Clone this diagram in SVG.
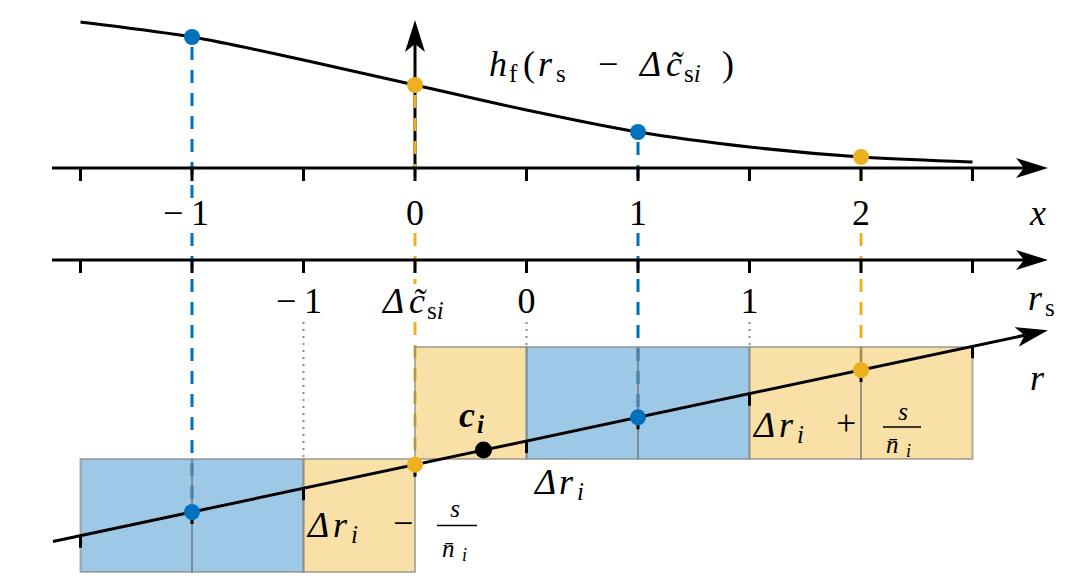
<svg xmlns="http://www.w3.org/2000/svg" width="1080" height="585" viewBox="0 0 1080 585">
<defs>
<marker id="arr" viewBox="-34 -12 36 24" refX="-24" refY="0" markerWidth="36" markerHeight="24" markerUnits="userSpaceOnUse" orient="auto">
<path d="M0,0 L-32,-10 L-24,0 L-32,10 Z" fill="#000"/>
</marker>
</defs>
<rect width="1080" height="585" fill="#fff"/>

<g id="y-axis" stroke="#000" stroke-width="3" fill="none">
<line x1="415" y1="168" x2="415" y2="44" marker-end="url(#arr)"/>
</g>

<g id="connectors" stroke-width="3" fill="none">
<path stroke="#0072BD" stroke-dasharray="13 10" d="M192,47 V198 M192,233 V512"/>
<path stroke="#EDB120" stroke-dasharray="13 10" d="M415,95 V182 M415,233 V284 M415,322 V465"/>
<path stroke="#0072BD" stroke-dasharray="13 10" d="M638,142 V182 M638,233 V417"/>
<path stroke="#EDB120" stroke-dasharray="13 10" d="M861,167 V182 M861,233 V370"/>
<path stroke="#888" stroke-width="2" stroke-dasharray="2 5" d="M303.5,322 V459 M526.5,322 V347 M749.5,322 V347"/>
</g>

<g id="cells" stroke="#808080" stroke-opacity="0.6" stroke-width="2">
<rect fill="#0072BD" fill-opacity="0.38" x="80.5" y="459" width="111.5" height="113"/>
<rect fill="#0072BD" fill-opacity="0.38" x="192" y="459" width="111.5" height="113"/>
<rect fill="#EDB120" fill-opacity="0.4" x="303.5" y="459" width="111.5" height="113"/>
<rect fill="#EDB120" fill-opacity="0.4" x="415" y="347" width="111.5" height="112"/>
<rect fill="#0072BD" fill-opacity="0.38" x="526.5" y="347" width="111.5" height="112"/>
<rect fill="#0072BD" fill-opacity="0.38" x="638" y="347" width="111.5" height="112"/>
<rect fill="#EDB120" fill-opacity="0.4" x="749.5" y="347" width="111.5" height="112"/>
<rect fill="#EDB120" fill-opacity="0.4" x="861" y="347" width="111.5" height="112"/>
</g>

<g id="x-axis" stroke="#000" stroke-width="3" fill="none">
<line x1="52" y1="168" x2="1024" y2="168" marker-end="url(#arr)"/>
<path d="M80.5,168v13 M192,168v13 M303.5,168v13 M415,168v13 M526.5,168v13 M638,168v13 M749.5,168v13 M861,168v13 M972.5,168v13"/>
</g>

<g id="rs-axis" stroke="#000" stroke-width="3" fill="none">
<line x1="52" y1="260" x2="1024" y2="260" marker-end="url(#arr)"/>
<path d="M80.5,260v13 M192,260v13 M303.5,260v13 M415,260v13 M526.5,260v13 M638,260v13 M749.5,260v13 M861,260v13 M972.5,260v13"/>
</g>

<g id="r-axis" stroke="#000" stroke-width="3" fill="none">
<line x1="53" y1="541.5" x2="1024.5" y2="335.3" marker-end="url(#arr)"/>
<path d="M80.5,535.7v12 M192,512v12 M303.5,488.3v12 M415,464.7v12 M526.5,441v12 M638,417.3v12 M749.5,393.7v12 M861,370v12 M972.5,346.3v12"/>
</g>

<g id="curve" stroke="#000" stroke-width="3" fill="none">
<path d="M80.5,22 C99,24.5 155,30.7 192,37 C229,43.3 266.3,52 303.5,60 C340.7,68 377.8,76.7 415,85 C452.2,93.3 489.3,102.2 526.5,110 C563.7,117.8 600.8,125.8 638,132 C675.2,138.2 712.3,142.8 749.5,147 C786.7,151.2 823.8,154.5 861,157 C898.2,159.5 953.9,161.2 972.5,162"/>
</g>

<g id="points">
<circle fill="#0072BD" cx="192" cy="37" r="8"/>
<circle fill="#EDB120" cx="415" cy="85" r="8"/>
<circle fill="#0072BD" cx="638" cy="132" r="8"/>
<circle fill="#EDB120" cx="861" cy="157" r="8"/>
<circle fill="#0072BD" cx="192" cy="512" r="8"/>
<circle fill="#EDB120" cx="415" cy="464.7" r="8"/>
<circle fill="#0072BD" cx="638" cy="417.3" r="8"/>
<circle fill="#EDB120" cx="861" cy="370" r="8"/>
<circle cx="483.5" cy="450" r="8.5" fill="#000"/>
</g>

<g id="label-hf">
<text font-family="Liberation Serif" font-size="36" y="76"><tspan x="489" font-style="italic">h</tspan><tspan x="509" y="82" font-size="25">f</tspan><tspan x="523" y="76">(</tspan><tspan x="538" font-style="italic">r</tspan><tspan x="556" y="82" font-size="25">s</tspan><tspan x="598" y="76">−</tspan><tspan x="640" font-style="italic">Δ</tspan><tspan x="666" font-style="italic">c̃</tspan><tspan x="684" y="82" font-size="25">s</tspan><tspan font-size="25" font-style="italic">i</tspan><tspan x="722" y="76">)</tspan></text>
</g>

<g id="x-labels">
<text font-family="Liberation Serif" font-size="36" y="225"><tspan x="163">−</tspan><tspan x="191">1</tspan></text>
<text font-family="Liberation Serif" font-size="36" text-anchor="middle" x="415" y="225">0</text>
<text font-family="Liberation Serif" font-size="36" text-anchor="middle" x="638" y="225">1</text>
<text font-family="Liberation Serif" font-size="36" text-anchor="middle" x="861" y="225">2</text>
<text font-family="Liberation Serif" font-size="36" text-anchor="middle" font-style="italic" x="1038" y="225">x</text>
</g>

<g id="rs-labels">
<text font-family="Liberation Serif" font-size="36" y="313"><tspan x="276">−</tspan><tspan x="304">1</tspan></text>
<text font-family="Liberation Serif" font-size="36" y="313"><tspan x="383" font-style="italic">Δ</tspan><tspan x="409" font-style="italic">c̃</tspan><tspan x="427" y="319" font-size="25">s</tspan><tspan font-size="25" font-style="italic">i</tspan></text>
<text font-family="Liberation Serif" font-size="36" text-anchor="middle" x="526.5" y="313">0</text>
<text font-family="Liberation Serif" font-size="36" text-anchor="middle" x="749.5" y="313">1</text>
<text font-family="Liberation Serif" font-size="36" y="310"><tspan x="1028" font-style="italic">r</tspan><tspan x="1045" y="316" font-size="25">s</tspan></text>
</g>

<g id="r-label">
<text font-family="Liberation Serif" font-size="36" font-style="italic" x="1030" y="390">r</text>
</g>

<g id="ci-label">
<text font-family="Liberation Serif" font-size="36" font-weight="bold" font-style="italic" y="427"><tspan x="459">c</tspan><tspan x="477" y="433" font-size="25">i</tspan></text>
</g>

<g id="dr-label">
<text font-family="Liberation Serif" font-size="36" font-style="italic" y="494"><tspan x="535">Δ</tspan><tspan x="559">r</tspan><tspan x="577" y="500" font-size="25">i</tspan></text>
</g>

<g id="dr-minus-label">
<text font-family="Liberation Serif" font-size="36" y="537"><tspan x="308" font-style="italic">Δ</tspan><tspan x="333" font-style="italic">r</tspan><tspan x="351" y="543" font-size="25" font-style="italic">i</tspan><tspan x="393" y="535">−</tspan></text>
<text font-family="Liberation Serif" font-size="25" font-style="italic" text-anchor="middle" x="455" y="517">s</text>
<line stroke="#000" stroke-width="1.6" x1="437" y1="525.5" x2="477" y2="525.5"/>
<text font-family="Liberation Serif" font-size="25" font-style="italic" y="557"><tspan x="442">n̄</tspan><tspan x="462" y="561" font-size="18">i</tspan></text>
</g>

<g id="dr-plus-label">
<text font-family="Liberation Serif" font-size="36" y="437"><tspan x="754" font-style="italic">Δ</tspan><tspan x="779" font-style="italic">r</tspan><tspan x="797" y="443" font-size="25" font-style="italic">i</tspan><tspan x="836" y="435">+</tspan></text>
<text font-family="Liberation Serif" font-size="25" font-style="italic" text-anchor="middle" x="903" y="420">s</text>
<line stroke="#000" stroke-width="1.6" x1="883" y1="427" x2="921" y2="427"/>
<text font-family="Liberation Serif" font-size="25" font-style="italic" y="453"><tspan x="886">n̄</tspan><tspan x="906" y="457" font-size="18">i</tspan></text>
</g>
</svg>
